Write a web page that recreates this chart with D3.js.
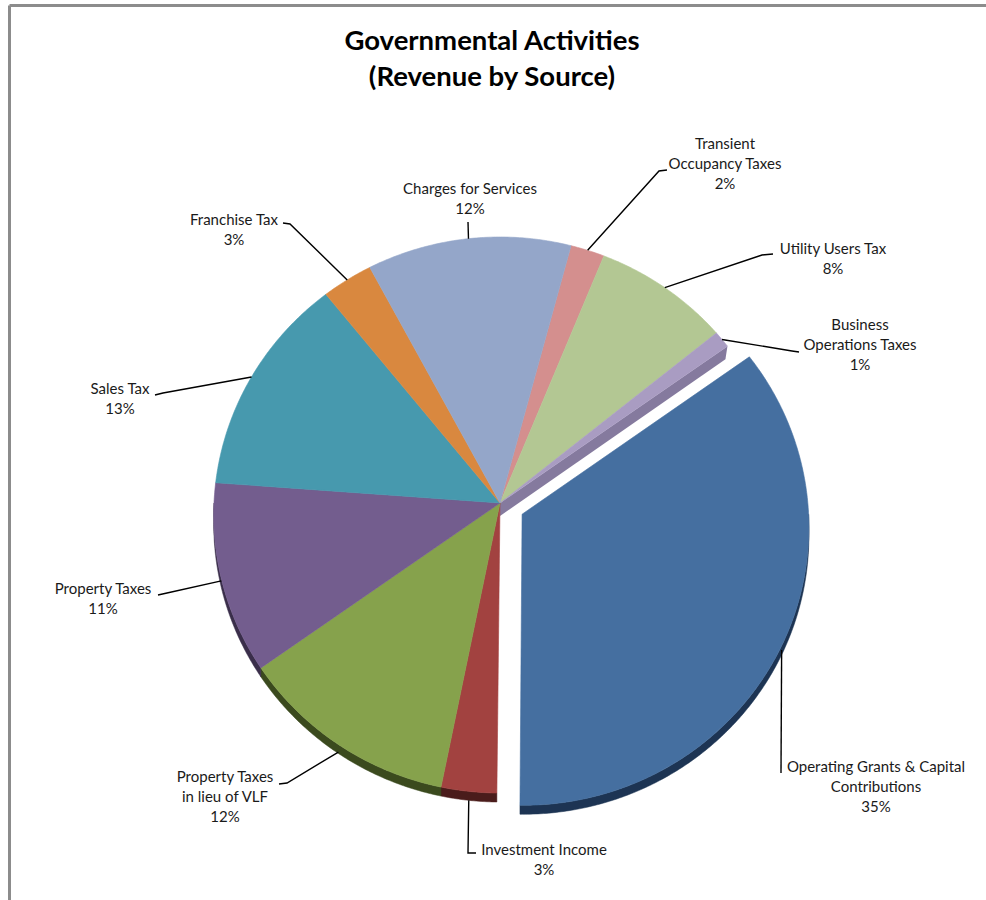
<!DOCTYPE html>
<html>
<head>
<meta charset="utf-8">
<script src="https://cdn.jsdelivr.net/npm/d3@7/dist/d3.min.js"></script>
<style>
  html, body { margin: 0; padding: 0; background: #fff; }
  svg { display: block; }
</style>
</head>
<body>
<svg id="chart" width="986" height="900"></svg>
<script>
// ---------------- DATA ----------------
const categories = [
  "Transient Occupancy Taxes",
  "Utility Users Tax",
  "Business Operations Taxes",
  "Operating Grants & Capital Contributions",
  "Investment Income",
  "Property Taxes in lieu of VLF",
  "Property Taxes",
  "Sales Tax",
  "Franchise Tax",
  "Charges for Services"
];
const values = [2, 8, 1, 35, 3, 12, 11, 13, 3, 12];
const labelLines = [
  ["Transient", "Occupancy Taxes"],
  ["Utility Users Tax"],
  ["Business", "Operations Taxes"],
  ["Operating Grants & Capital", "Contributions"],
  ["Investment Income"],
  ["Property Taxes", "in lieu of VLF"],
  ["Property Taxes"],
  ["Sales Tax"],
  ["Franchise Tax"],
  ["Charges for Services"]
];
const explodedCategory = "Operating Grants & Capital Contributions";
const titleLines = ["Governmental Activities", "(Revenue by Source)"];

// ---------------- STYLE / LAYOUT ----------------
const topColors  = ["#d48f8e", "#b3c793", "#a99cc2", "#456fa0", "#a24240", "#86a24c", "#735d8e", "#4799ae", "#d9883f", "#94a6c9"];
const sideColors = ["#8a5150", "#6f7d58", "#857a9e", "#1d3453", "#4a1c1b", "#3b4a1e", "#3a2e4a", "#255563", "#7a4a20", "#5a6680"];
const labelLayout = [
  { x: 725, y: 145, path: [[659, 171], [667, 170]] },
  { x: 833, y: 250, path: [[762, 255], [773, 254]] },
  { x: 860, y: 326, path: [[792, 351], [799, 352]] },
  { x: 876, y: 768, path: [[781, 773]] },
  { x: 544, y: 851, path: [[468, 853], [476, 853]] },
  { x: 225, y: 778, path: [[287, 783], [279, 784]] },
  { x: 103, y: 590, path: [[167, 593], [158, 595]] },
  { x: 120, y: 390, path: [[163, 393], [155, 395]] },
  { x: 234, y: 221, path: [[290, 224], [283, 223]] },
  { x: 470, y: 190, path: [[468, 222]] }
];

const W = 986, H = 900;
const cx = 500, cy = 503;          // projected pie centre
const a = 286, b = 277.5, k = 0.0432; // perspective projection of the disc
const depth = 9;                   // screen height of the pie side
const wallDepth = 13;              // visible height of the revealed radial wall
const explode = 0.087;             // explosion distance (radius units)
const lineH = 20;

const svg = d3.select("#chart");

// frame
svg.append("line").attr("x1", 9.5).attr("y1", 5.5).attr("x2", W).attr("y2", 5.5)
  .attr("stroke", "#8c8c8c").attr("stroke-width", 3);
svg.append("line").attr("x1", 9.5).attr("y1", 5.5).attr("x2", 9.5).attr("y2", H)
  .attr("stroke", "#8c8c8c").attr("stroke-width", 3);

// title
const title = svg.append("text")
  .attr("x", 492).attr("y", 50)
  .attr("text-anchor", "middle")
  .style("font-family", "Lato, 'Open Sans', sans-serif")
  .style("font-weight", "bold")
  .style("font-size", "27.5px")
  .attr("fill", "#000");
titleLines.forEach((t, i) => title.append("tspan").attr("x", 492).attr("dy", i === 0 ? 0 : 36).text(t));

// pie layout
const pie = d3.pie().sort(null).value(d => d)
  .startAngle(15 * Math.PI / 180).endAngle(375 * Math.PI / 180);
const arcs = pie(values);
const total = d3.sum(values);
const pct = d3.format(".0%");

function proj(theta, r, du, dv) {
  const u = r * Math.sin(theta) + du;
  const v = r * Math.cos(theta) + dv;
  const s = 1 + k * v;
  return [cx + a * u / s, cy - b * v / s];
}
function offsetOf(d, i) {
  if (categories[i] !== explodedCategory) return [0, 0];
  const mid = (d.startAngle + d.endAngle) / 2;
  return [explode * Math.sin(mid), explode * Math.cos(mid)];
}
function arcPoints(a0, a1, du, dv) {
  const n = Math.max(2, Math.ceil((a1 - a0) / (Math.PI / 360)));
  return d3.range(n + 1).map(j => proj(a0 + (a1 - a0) * j / n, 1, du, dv));
}
const line = d3.line();

const gPie = svg.append("g");

// side faces (visible on near half: angles between 90° and 270°)
arcs.forEach((d, i) => {
  const [du, dv] = offsetOf(d, i);
  const s0 = Math.max(d.startAngle, Math.PI / 2);
  const s1 = Math.min(d.endAngle, 3 * Math.PI / 2);
  if (s1 <= s0) return;
  const top = arcPoints(s0, s1, du, dv);
  const bot = top.slice().reverse().map(p => [p[0], p[1] + depth]);
  gPie.append("path").attr("d", line(top.concat(bot)) + "Z")
    .attr("fill", sideColors[i]).attr("stroke", sideColors[i]).attr("stroke-width", 0.5);
});

// radial wall revealed by the exploded slice (end edge of the slice before it)
arcs.forEach((d, i) => {
  const next = (i + 1) % arcs.length;
  if (categories[next] !== explodedCategory) return;
  const c = proj(0, 0, 0, 0);
  const p = proj(d.endAngle, 1, 0, 0);
  const pts = [c, p, [p[0] - 2, p[1] + wallDepth], [c[0], c[1] + wallDepth]];
  gPie.append("path").attr("d", line(pts) + "Z")
    .attr("fill", sideColors[i]).attr("stroke", "none");
});

// top faces
arcs.forEach((d, i) => {
  const [du, dv] = offsetOf(d, i);
  const pts = [proj(0, 0, du, dv)].concat(arcPoints(d.startAngle, d.endAngle, du, dv));
  gPie.append("path").attr("d", line(pts) + "Z")
    .attr("fill", topColors[i]).attr("stroke", topColors[i]).attr("stroke-width", 0.6)
    .attr("stroke-linejoin", "round");
});

// leader lines and labels
const gLab = svg.append("g");
arcs.forEach((d, i) => {
  const [du, dv] = offsetOf(d, i);
  const mid = (d.startAngle + d.endAngle) / 2;
  const rim = proj(mid, 1, du, dv);
  const vv = Math.cos(mid);
  rim[1] += depth * Math.max(0, -vv);
  const L = labelLayout[i];
  gLab.append("path").attr("d", line([rim].concat(L.path)))
    .attr("fill", "none").attr("stroke", "#000").attr("stroke-width", 1.4);
  const t = gLab.append("text")
    .attr("x", L.x).attr("y", L.y)
    .attr("text-anchor", "middle")
    .attr("dominant-baseline", "middle")
    .style("font-family", "Lato, 'Open Sans', sans-serif")
    .style("font-size", "15px")
    .attr("fill", "#1a1a1a");
  const lines = labelLines[i].concat([pct(d.data / total)]);
  lines.forEach((s, j) => t.append("tspan").attr("x", L.x).attr("dy", j === 0 ? 0 : lineH).text(s));
});
</script>
</body>
</html>
